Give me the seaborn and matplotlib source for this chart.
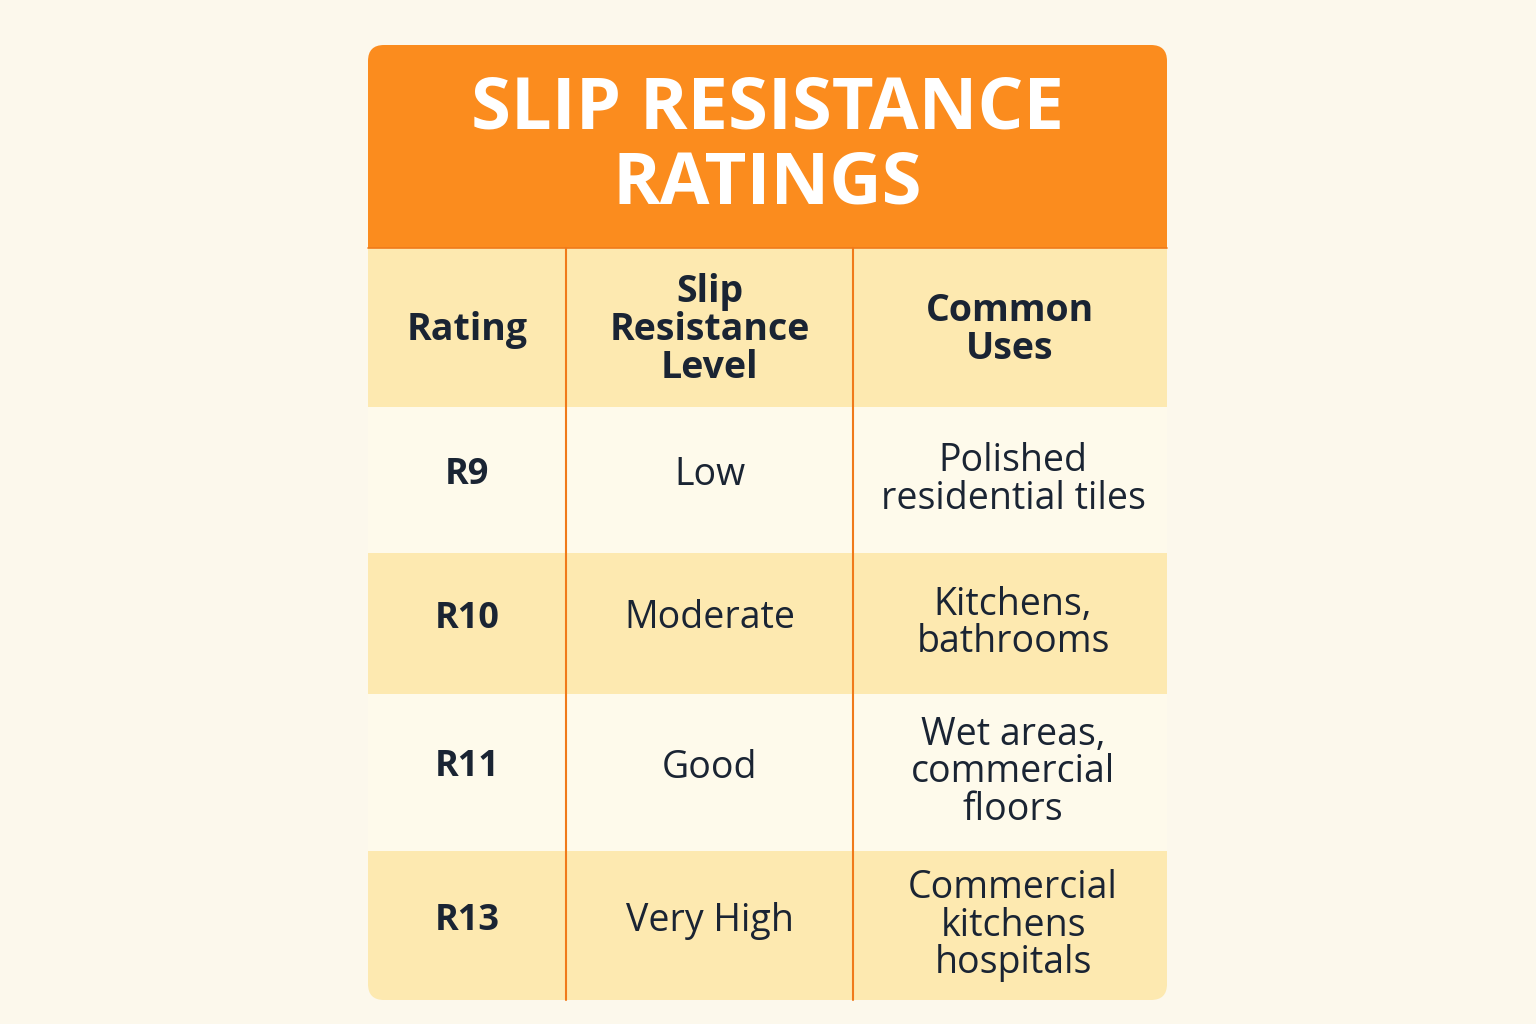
import matplotlib
matplotlib.use("Agg")
import matplotlib.pyplot as plt
import seaborn as sns
from matplotlib.patches import FancyBboxPatch, Rectangle

sns.set_theme(style="white")

title = "SLIP RESISTANCE\nRATINGS"
headers = ["Rating", "Slip\nResistance\nLevel", "Common\nUses"]
ratings = ["R9", "R10", "R11", "R13"]
levels = ["Low", "Moderate", "Good", "Very High"]
uses = ["Polished\nresidential tiles", "Kitchens,\nbathrooms", "Wet areas,\ncommercial\nfloors", "Commercial\nkitchens\nhospitals"]

W, H = 1536, 1024
fig = plt.figure(figsize=(W / 100, H / 100), dpi=100, facecolor="#FCF8EC")
ax = fig.add_axes([0, 0, 1, 1])
ax.set_xlim(0, W); ax.set_ylim(H, 0); ax.axis("off")
ax.set_facecolor("#FCF8EC")

x0, x1 = 368, 1167
y_top, y_bot = 45, 1000
clip = FancyBboxPatch((x0, y_top), x1 - x0, y_bot - y_top,
                      boxstyle="round,pad=0,rounding_size=16",
                      facecolor="none", edgecolor="none")
ax.add_patch(clip)

cols = [368, 566, 853, 1167]
row_edges = [45, 248, 407, 553, 694, 851, 1000]
fills = ["#FB8C1E", "#FDE9B0", "#FEFAEB", "#FDE9B0", "#FEFAEB", "#FDE9B0"]
for i, c in enumerate(fills):
    r = Rectangle((x0, row_edges[i]), x1 - x0, row_edges[i + 1] - row_edges[i],
                  facecolor=c, edgecolor="none")
    ax.add_patch(r); r.set_clip_path(clip)
ax.plot([x0, x1], [248, 248], color="#F07A1A", lw=1.2)
for cx in cols[1:3]:
    ax.plot([cx, cx], [248, 1000], color="#F07A1A", lw=1.5)

ax.text((x0 + x1) / 2, 147, title, ha="center", va="center", color="white",
        fontsize=52, fontweight="bold", family="Open Sans", linespacing=1.05)

dark = "#1A2433"
centers = [(cols[i] + cols[i + 1]) / 2 for i in range(3)]
for i, h in enumerate(headers):
    ax.text(centers[i], 330, h, ha="center", va="center", color=dark,
            fontsize=27, fontweight="bold", family="Open Sans", linespacing=1.0)
for k in range(4):
    yc = (row_edges[k + 2] + row_edges[k + 3]) / 2
    ax.text(centers[0], yc - 5, ratings[k], ha="center", va="center", color=dark,
            fontsize=26, fontweight="bold", family="Open Sans")
    ax.text(centers[1], yc - 5, levels[k], ha="center", va="center", color=dark,
            fontsize=27, family="Open Sans")
    ax.text(centers[2] + 3, yc, uses[k], ha="center", va="center", color=dark,
            fontsize=27, family="Open Sans", linespacing=1.0)

fig.savefig("out.png", dpi=100, facecolor=fig.get_facecolor())
